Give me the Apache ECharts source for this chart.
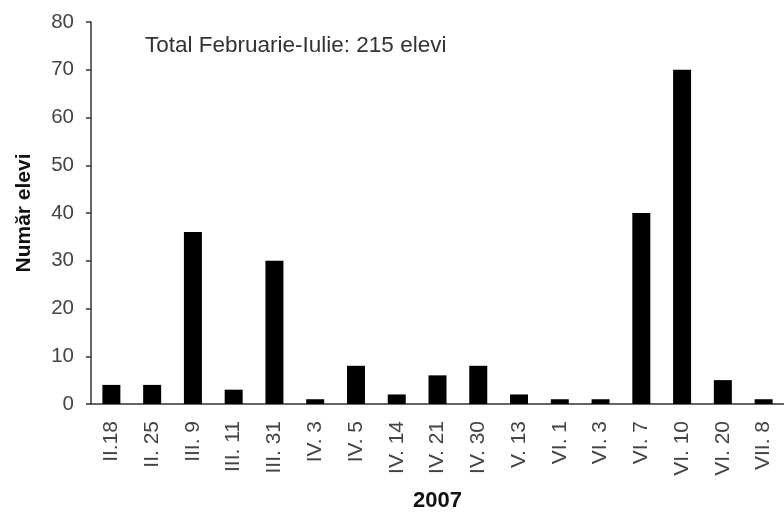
<!DOCTYPE html>
<html>
<head>
<meta charset="utf-8">
<script src="https://cdn.jsdelivr.net/npm/echarts@6/dist/echarts.min.js"></script>
<style>
  html, body { margin: 0; padding: 0; background: #fff; }
  #chart { width: 784px; height: 517px; }
</style>
</head>
<body>
<div id="chart"></div>
<script>
// date de citire (2007)
var categories = ['II.18', 'II. 25', 'III. 9', 'III. 11', 'III. 31', 'IV. 3', 'IV. 5', 'IV. 14', 'IV. 21',
  'IV. 30', 'V. 13', 'VI. 1', 'VI. 3', 'VI. 7', 'VI. 10', 'VI. 20', 'VII. 8']
var elevi = [4, 4, 36, 3, 30, 1, 8, 2, 6, 8, 2, 1, 1, 40, 70, 5, 1]
var yTicks = { min: 0, max: 80, interval: 10 }
var noteText = 'Total Februarie-Iulie: 215 elevi'

var font = 'Arial, "Liberation Sans", sans-serif'
var chart = echarts.init(document.getElementById('chart'))

chart.setOption({
  animation: false,
  backgroundColor: '#fff',
  grid: {
    left: 91,
    top: 22,
    width: 697,
    height: 385.5
  },
  graphic: [
    {
      type: 'text',
      x: 145,
      y: 46,
      style: {
        text: noteText,
        font: '22.5px ' + font,
        fill: '#333',
        textVerticalAlign: 'middle'
      }
    }
  ],
  xAxis: {
    type: 'category',
    data: categories,
    name: '2007',
    nameLocation: 'middle',
    nameGap: 86,
    nameTextStyle: {
      fontFamily: font,
      fontSize: 22,
      fontWeight: 'bold',
      color: '#111'
    },
    axisLine: { lineStyle: { color: '#333', width: 1.5 } },
    axisTick: { length: 6, lineStyle: { color: '#333', width: 1.5 } },
    axisLabel: {
      interval: 0,
      rotate: 90,
      margin: 17,
      fontFamily: font,
      fontSize: 21,
      color: '#444'
    }
  },
  yAxis: {
    type: 'value',
    min: yTicks.min,
    max: yTicks.max,
    interval: yTicks.interval,
    name: 'Număr elevi',
    nameLocation: 'middle',
    nameGap: 56,
    nameTextStyle: {
      fontFamily: font,
      fontSize: 21,
      fontWeight: 'bold',
      color: '#111'
    },
    splitLine: { show: false },
    axisLine: { show: true, lineStyle: { color: '#333', width: 1.5 } },
    axisTick: { show: true, length: 5, lineStyle: { color: '#333', width: 1.5 } },
    axisLabel: {
      margin: 17,
      fontFamily: font,
      fontSize: 20.5,
      color: '#444'
    }
  },
  series: [
    {
      name: 'elevi',
      type: 'bar',
      data: elevi,
      barWidth: 18,
      itemStyle: { color: '#000' }
    }
  ]
})
</script>
</body>
</html>
